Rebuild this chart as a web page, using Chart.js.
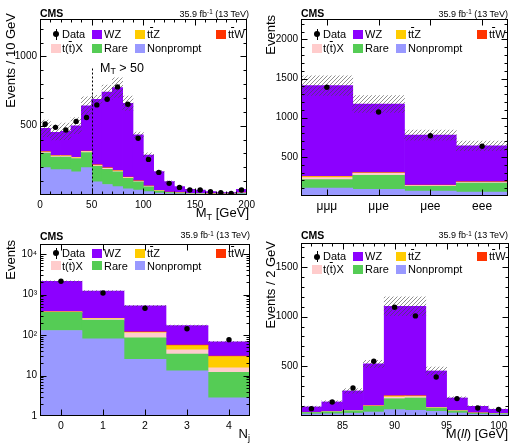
<!DOCTYPE html>
<html>
<head>
<meta charset="utf-8">
<script src="https://cdn.jsdelivr.net/npm/chart.js@4.4.1/dist/chart.umd.min.js"></script>
<style>
body { margin: 0; background: #fff; }
#fig { position: relative; width: 518px; height: 447px; overflow: hidden; font-family: "Liberation Sans", Arial, sans-serif; color: #000; }
canvas { position: absolute; }
.t { position: absolute; white-space: nowrap; line-height: 1; }
.cms { font-weight: bold; font-size: 10.5px; }
.lumi { font-size: 9px; width: 150px; text-align: right; }
.ytitle { font-size: 13px; width: 200px; text-align: right; transform: rotate(-90deg); transform-origin: 0 0; }
.xtitle { font-size: 13px; width: 150px; text-align: right; }
.leg { font-size: 11px; }
.sw { position: absolute; width: 10px; height: 9px; }
.ob { text-decoration: overline; }
.sub { font-size: 0.7em; position: relative; top: 0.3em; }
.sup { font-size: 0.7em; position: relative; top: -0.45em; }
.dot { position: absolute; width: 6px; height: 6px; border-radius: 50%; background: #000; }
.bar { position: absolute; width: 1px; height: 11px; background: #000; }
</style>
</head>
<body>
<div id="fig">
  <canvas id="c1" width="259" height="223" style="left:0;top:0"></canvas>
  <canvas id="c2" width="259" height="223" style="left:259px;top:0"></canvas>
  <canvas id="c3" width="259" height="224" style="left:0;top:223px"></canvas>
  <canvas id="c4" width="259" height="224" style="left:259px;top:223px"></canvas>

  <div class="t cms" style="left:40px;top:8px">CMS</div>
  <div class="t cms" style="left:301px;top:8px">CMS</div>
  <div class="t cms" style="left:40px;top:231px">CMS</div>
  <div class="t cms" style="left:301px;top:230px">CMS</div>

  <div class="t lumi" style="left:99px;top:9.7px">35.9 fb<span class="sup">-1</span> (13 TeV)</div>
  <div class="t lumi" style="left:358px;top:9.7px">35.9 fb<span class="sup">-1</span> (13 TeV)</div>
  <div class="t lumi" style="left:100px;top:231.4px">35.9 fb<span class="sup">-1</span> (13 TeV)</div>
  <div class="t lumi" style="left:358px;top:231.4px">35.9 fb<span class="sup">-1</span> (13 TeV)</div>

  <div class="t ytitle" style="left:4px;top:213px">Events / 10 GeV</div>
  <div class="t ytitle" style="left:263.7px;top:215px">Events</div>
  <div class="t ytitle" style="left:4px;top:440px">Events</div>
  <div class="t ytitle" style="left:264.3px;top:441px">Events / 2 GeV</div>

  <div class="t xtitle" style="left:99px;top:206px">M<span class="sub">T</span> [GeV]</div>
  <div class="t xtitle" style="left:100px;top:427px">N<span class="sub">j</span></div>
  <div class="t xtitle" style="left:358px;top:427px">M(<i>ll</i>) [GeV]</div>

  <div class="t" style="left:100px;top:61.5px;font-size:12.5px">M<span class="sub">T</span> &gt; 50</div>
</div>

<script>
// processes, bottom of the stack first
const procNames = ['Nonprompt', 'Rare', 't(<span class="ob">t</span>)X', 't<span class="ob">t</span>Z', 't<span class="ob">t</span>W', 'WZ'];
const procColors = ['#9999ff', '#55cc55', '#ffcccc', '#ffcc00', '#ff3300', '#8c00ff'];

// M_T, 10 GeV bins
const mtBins = [5, 15, 25, 35, 45, 55, 65, 75, 85, 95, 105, 115, 125, 135, 145, 155, 165, 175, 185, 195];
const mtNonprompt = [198, 183, 183, 167, 198, 95, 76, 60, 45, 35, 24, 14, 10, 8, 6, 6, 5, 4, 4, 8];
const mtRare = [104, 91, 91, 95, 109, 112, 110, 107, 75, 60, 35, 14, 8, 5, 3, 3, 2, 2, 2, 4];
const mtTX = [6, 6, 6, 6, 6, 6, 6, 5, 5, 4, 3, 2, 1, 1, 1, 1, 0.5, 0.5, 0.5, 1];
const mtTTZ = [3, 3, 3, 3, 3, 3, 3, 3, 3, 2, 2, 1, 1, 1, 0.5, 0.5, 0.5, 0.5, 0.5, 1];
const mtTTW = [1, 1, 1, 1, 1, 1, 1, 1, 1, 1, 0.5, 0.5, 0.5, 0.5, 0.2, 0.2, 0.2, 0.2, 0.2, 0.5];
const mtWZ = [169, 168, 175, 228, 326, 473, 546, 599, 533, 332, 224, 137, 76, 45, 30, 25, 16, 10, 10, 27];
const mtData = [512, 488, 469, 531, 559, 650, 691, 780, 655, 410, 257, 163, 84, 55, 36, 36, 24, 17, 12, 36];
const mtUnc = [60, 55, 60, 58, 65, 30, 52, 70, 52, 20, 15, 8, 5, 3, 2, 2, 2, 1, 1, 3];
const mtXTicks = [0, 50, 100, 150, 200];
const mtYTicks = [0, 500, 1000];
const mtCut = 50;
const mtCutTop = 920;

// lepton flavour
const flCats = ['\u03bc\u03bc\u03bc', '\u03bc\u03bce', '\u03bcee', 'eee'];
const flNonprompt = [102, 85, 64, 51];
const flRare = [107, 180, 60, 115];
const flTX = [25, 25, 10, 10];
const flTTZ = [15, 5, 3, 3];
const flTTW = [3, 2, 1, 1];
const flWZ = [1157, 877, 639, 460];
const flData = [1388, 1072, 769, 636];
const flUnc = [125, 107, 64, 60];
const flYTicks = [0, 500, 1000, 1500, 2000];

// jet multiplicity
const njCats = ['0', '1', '2', '3', '4'];
const njNonprompt = [130, 81, 25, 13, 2.8];
const njRare = [233, 154, 61, 21, 9.2];
const njTX = [8, 18, 28, 9, 3.6];
const njTTZ = [4, 5, 3, 12, 14];
const njTTW = [1, 1, 3, 1.5, 0.8];
const njWZ = [1754, 971, 406, 114, 38];
const njData = [2140, 1100, 460, 143, 77];
const njUnc = [60, 35, 15, 5, 2];
const njYTicks = [1, 10, 100, 1000, 10000];
const njYLabels = ['1', '10', '10\u00b2', '10\u00b3', '10\u2074'];

// M(ll), 2 GeV bins
const mllBins = [82, 84, 86, 88, 90, 92, 94, 96, 98, 100];
const mllNonprompt = [20, 22, 28, 40, 64, 57, 47, 30, 18, 15];
const mllRare = [15, 20, 25, 57, 110, 124, 33, 20, 10, 8];
const mllTX = [1, 1, 2, 3, 17, 14, 3, 2, 1, 1];
const mllTTZ = [1, 1, 1, 2, 10, 6, 2, 1, 1, 1];
const mllTTW = [0.5, 0.5, 0.5, 1, 2, 2, 1, 0.5, 0.5, 0.5];
const mllWZ = [54, 97, 196, 421, 901, 901, 367, 128, 67, 42];
const mllData = [74, 141, 282, 550, 1094, 1007, 393, 175, 81, 67];
const mllUnc = [8, 12, 23, 36, 94, 94, 40, 12, 6, 5];
const mllXTicks = [85, 90, 95, 100];
const mllYTicks = [0, 500, 1000, 1500];

Chart.defaults.font.family = '"Liberation Sans", Arial, sans-serif';
Chart.defaults.color = '#000';

function makeHatch() {
    const c = document.createElement('canvas');
    c.width = 4; c.height = 4;
    const g = c.getContext('2d');
    g.strokeStyle = 'rgba(70,70,70,0.75)';
    g.lineWidth = 0.8;
    g.beginPath();
    g.moveTo(0, 4); g.lineTo(4, 0);
    g.moveTo(-1, 1); g.lineTo(1, -1);
    g.moveTo(3, 5); g.lineTo(5, 3);
    g.stroke();
    return g.createPattern(c, 'repeat');
}
const hatch = makeHatch();

// frame, inward ticks on all four sides, optional cut line
const frameTicks = {
    id: 'frameTicks',
    afterDraw(chart, args, o) {
        const ctx = chart.ctx, a = chart.chartArea;
        const x = chart.scales.x, y = chart.scales.y;
        const L = Math.round(a.left) + 0.5, R = Math.round(a.right) - 0.5;
        const T = Math.round(a.top) + 0.5, B = Math.round(a.bottom) - 0.5;
        ctx.save();
        ctx.strokeStyle = '#000';
        ctx.lineWidth = 1;
        if (o.cutX != null) {
            const px = Math.round(x.getPixelForValue(o.cutX)) + 0.5;
            ctx.setLineDash([2, 2]);
            ctx.beginPath();
            ctx.moveTo(px, B);
            ctx.lineTo(px, y.getPixelForValue(o.cutTop));
            ctx.stroke();
            ctx.setLineDash([]);
        }
        ctx.strokeRect(L, T, R - L, B - T);
        ctx.beginPath();
        const vt = (px, len) => {
            px = Math.round(px) + 0.5;
            if (px < L || px > R) return;
            ctx.moveTo(px, B); ctx.lineTo(px, B - len);
            ctx.moveTo(px, T); ctx.lineTo(px, T + len);
        };
        const ht = (py, len) => {
            py = Math.round(py) + 0.5;
            if (py < T || py > B) return;
            ctx.moveTo(L, py); ctx.lineTo(L + len, py);
            ctx.moveTo(R, py); ctx.lineTo(R - len, py);
        };
        x.ticks.forEach((t, i) => vt(x.getPixelForTick(i), 6));
        y.ticks.forEach((t, i) => ht(y.getPixelForTick(i), 6));
        if (o.xMinor) {
            for (let v = x.min; v <= x.max + 1e-9; v += o.xMinor) vt(x.getPixelForValue(v), 3);
        }
        if (o.yMinor) {
            for (let v = y.min; v <= y.max + 1e-9; v += o.yMinor) ht(y.getPixelForValue(v), 3);
        }
        if (o.yLogMinor) {
            for (let d = 1; d < y.max; d *= 10) {
                for (let k = 2; k < 10; k++) if (k * d <= y.max) ht(y.getPixelForValue(k * d), 3);
            }
        }
        ctx.stroke();
        ctx.restore();
    }
};

const fixTicks = vals => s => { s.ticks = vals.map(v => ({ value: v })); };

function panel(id, cfg) {
    const canvas = document.getElementById(id);
    const W = canvas.width, H = canvas.height, area = cfg.area;
    const total = cfg.labels.map((_, i) => cfg.comps.reduce((s, arr) => s + arr[i], 0));
    const band = total.map((t, i) => [t - cfg.unc[i], t + cfg.unc[i]]);

    const datasets = [{
        type: 'line', data: cfg.data, xAxisID: 'xb', yAxisID: 'yb',
        showLine: false, pointRadius: 2.7, pointBackgroundColor: '#000', pointBorderWidth: 0
    }, {
        type: 'bar', data: band, xAxisID: 'xb', yAxisID: 'yb', grouped: false,
        backgroundColor: hatch, barPercentage: 1, categoryPercentage: 1
    }];
    cfg.comps.forEach((arr, k) => datasets.push({
        type: 'bar', data: arr, xAxisID: 'x', yAxisID: 'y', grouped: false,
        backgroundColor: procColors[k], barPercentage: 1, categoryPercentage: 1
    }));

    const base = extra => Object.assign({
        grid: { display: false, drawTicks: false },
        border: { display: false }
    }, extra);

    const x = base(cfg.x);
    x.stacked = true;
    x.ticks = Object.assign({ maxRotation: 0, autoSkip: false, padding: 4, font: { size: 10 } }, cfg.xTicks);
    x.afterFit = s => { s.height = H - area.bottom; };
    if (cfg.xTickVals) x.afterBuildTicks = fixTicks(cfg.xTickVals);
    const xb = base(cfg.x);
    xb.display = false;

    const y = base(cfg.y);
    y.stacked = true;
    y.ticks = Object.assign({ padding: 3, font: { size: 10 },
        callback: v => (v === 0 ? '' : v) }, cfg.yTicks);
    y.afterFit = s => { s.width = area.left; };
    if (cfg.yTickVals) y.afterBuildTicks = fixTicks(cfg.yTickVals);
    const yb = base(cfg.y);
    yb.display = false;

    return new Chart(canvas, {
        type: 'bar',
        data: { labels: cfg.labels, datasets: datasets },
        options: {
            responsive: false,
            animation: false,
            devicePixelRatio: 1,
            layout: { padding: { left: 0, right: W - area.right, top: area.top, bottom: 0 } },
            plugins: { legend: { display: false }, tooltip: { enabled: false }, frameTicks: cfg.frame || {} },
            scales: { x: x, y: y, xb: xb, yb: yb }
        },
        plugins: [frameTicks]
    });
}

panel('c1', {
    labels: mtBins,
    comps: [mtNonprompt, mtRare, mtTX, mtTTZ, mtTTW, mtWZ],
    data: mtData, unc: mtUnc,
    area: { left: 40, right: 249, top: 19, bottom: 195 },
    x: { type: 'linear', min: 0, max: 200, offset: false },
    xTickVals: mtXTicks,
    y: { type: 'linear', min: 0, max: 1270 },
    yTickVals: mtYTicks,
    frame: { xMinor: 10, yMinor: 100, cutX: mtCut, cutTop: mtCutTop }
});

panel('c2', {
    labels: flCats,
    comps: [flNonprompt, flRare, flTX, flTTZ, flTTW, flWZ],
    data: flData, unc: flUnc,
    area: { left: 42, right: 249, top: 19, bottom: 196 },
    x: { type: 'category', offset: true },
    xTicks: { font: { size: 12 }, padding: 3 },
    y: { type: 'linear', min: 0, max: 2260 },
    yTickVals: flYTicks,
    frame: { yMinor: 100 }
});

panel('c3', {
    labels: njCats,
    comps: [njNonprompt, njRare, njTX, njTTZ, njTTW, njWZ],
    data: njData, unc: njUnc,
    area: { left: 40, right: 250, top: 21, bottom: 193 },
    x: { type: 'category', offset: true },
    xTicks: { font: { size: 10.5 } },
    y: { type: 'logarithmic', min: 1, max: 17800 },
    yTicks: { callback: (v, i) => njYLabels[i] },
    yTickVals: njYTicks,
    frame: { yLogMinor: true }
});

panel('c4', {
    labels: mllBins,
    comps: [mllNonprompt, mllRare, mllTX, mllTTZ, mllTTW, mllWZ],
    data: mllData, unc: mllUnc,
    area: { left: 42, right: 250, top: 20, bottom: 193 },
    x: { type: 'linear', min: 81, max: 101, offset: false },
    xTickVals: mllXTicks,
    y: { type: 'linear', min: 0, max: 1740 },
    yTickVals: mllYTicks,
    frame: { xMinor: 1, yMinor: 100 }
});

// legends drawn inside each frame
const legRows = [
    [{ key: 'data', sw: 16, tx: 22, label: 'Data' }, { key: 5, sw: 52, tx: 64 }, { key: 3, sw: 95, tx: 107 }, { key: 4, sw: 176, tx: 188 }],
    [{ key: 2, sw: 11, tx: 22 }, { key: 1, sw: 52, tx: 64 }, { key: 0, sw: 95, tx: 107 }]
];
function legend(frameLeft, rowCenters) {
    const fig = document.getElementById('fig');
    legRows.forEach((row, r) => {
        const yc = rowCenters[r];
        row.forEach(item => {
            if (item.key === 'data') {
                const d = document.createElement('div');
                d.className = 'dot';
                d.style.left = (frameLeft + item.sw - 3) + 'px';
                d.style.top = (yc - 3) + 'px';
                fig.appendChild(d);
                const b = document.createElement('div');
                b.className = 'bar';
                b.style.left = (frameLeft + item.sw - 0.5) + 'px';
                b.style.top = (yc - 5.5) + 'px';
                fig.appendChild(b);
            } else {
                const s = document.createElement('div');
                s.className = 'sw';
                s.style.background = procColors[item.key];
                s.style.left = (frameLeft + item.sw) + 'px';
                s.style.top = (yc - 4.5) + 'px';
                fig.appendChild(s);
            }
            const t = document.createElement('div');
            t.className = 't leg';
            t.innerHTML = item.key === 'data' ? item.label : procNames[item.key];
            t.style.left = (frameLeft + item.tx) + 'px';
            t.style.top = (yc + 4 - 9.3) + 'px';
            fig.appendChild(t);
        });
    });
}
legend(40, [34, 48]);
legend(301, [34, 48]);
legend(40, [253.3, 265.8]);
legend(301, [256.7, 269]);
</script>
</body>
</html>
